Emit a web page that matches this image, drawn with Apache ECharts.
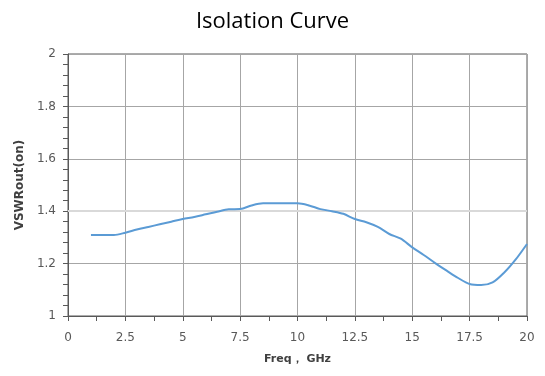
<!DOCTYPE html>
<html><head><meta charset="utf-8">
<script src="https://cdn.jsdelivr.net/npm/echarts@6/dist/echarts.min.js"></script>
<style>html,body{margin:0;padding:0;background:#fff}#c{width:545px;height:376px}</style>
</head><body><div id="c"></div>
<script>
const freqs = [1.0,1.5,2.0,2.5,3.0,3.5,4.0,4.5,5.0,5.5,6.0,6.5,7.0,7.5,8.0,8.5,9.0,9.5,10.0,10.5,11.0,11.5,12.0,12.5,13.0,13.5,14.0,14.5,15.0,15.5,16.0,16.5,17.0,17.5,18.0,18.5,19.0,19.5,20.0];
const vswr = [1.309,1.309,1.309,1.318,1.330,1.340,1.350,1.360,1.370,1.378,1.388,1.398,1.407,1.408,1.422,1.430,1.430,1.430,1.430,1.422,1.408,1.400,1.390,1.370,1.358,1.340,1.313,1.295,1.262,1.233,1.202,1.173,1.145,1.122,1.118,1.128,1.165,1.215,1.275];
const title = 'Isolation Curve';
const xName = 'Freq， GHz';
const yName = 'VSWRout(on)';

const chart = echarts.init(document.getElementById('c'));
const labelStyle = {fontFamily:'DejaVu Sans', fontSize:12, color:'#595959'};
chart.setOption({
  animation:false,
  title:{text:title,left:'center',top:6,textStyle:{fontFamily:'Open Sans',fontSize:22,fontWeight:'normal',color:'#000'}},
  grid:{left:68,right:18,top:54,bottom:60,show:true,borderColor:'#595959',borderWidth:1},
  xAxis:{type:'value',min:0,max:20,interval:2.5,
    name:xName,nameLocation:'middle',nameGap:38,
    nameTextStyle:{fontFamily:'DejaVu Sans',fontSize:11,fontWeight:'bold',color:'#404040'},
    axisLine:{lineStyle:{color:'#595959'}},
    axisTick:{show:true,length:5,lineStyle:{color:'#595959'}},
    minorTick:{show:true,splitNumber:2,length:5,lineStyle:{color:'#595959'}},
    axisLabel:Object.assign({margin:16},labelStyle),
    splitLine:{show:true,lineStyle:{color:'#a6a6a6',width:1}}},
  yAxis:{type:'value',min:1,max:2,interval:0.2,
    name:yName,nameLocation:'middle',nameGap:40,
    nameTextStyle:{fontFamily:'DejaVu Sans',fontSize:12,fontWeight:'bold',color:'#404040'},
    axisLine:{show:true,lineStyle:{color:'#595959'}},
    axisTick:{show:true,length:5,lineStyle:{color:'#595959'}},
    minorTick:{show:true,splitNumber:5,length:5,lineStyle:{color:'#595959'}},
    axisLabel:Object.assign({margin:12},labelStyle),
    splitLine:{show:true,lineStyle:{color:'#a6a6a6',width:1}}},
  series:[{type:'line',data:freqs.map((f,i)=>[f,vswr[i]]),showSymbol:false,smooth:0.3,
    lineStyle:{color:'#5b9bd5',width:2},
    markLine:{silent:true,symbol:'none',label:{show:false},lineStyle:{color:'#d9d9d9',width:2,type:'solid'},data:[{yAxis:1.4}],z:1}}]
});
</script></body></html>
